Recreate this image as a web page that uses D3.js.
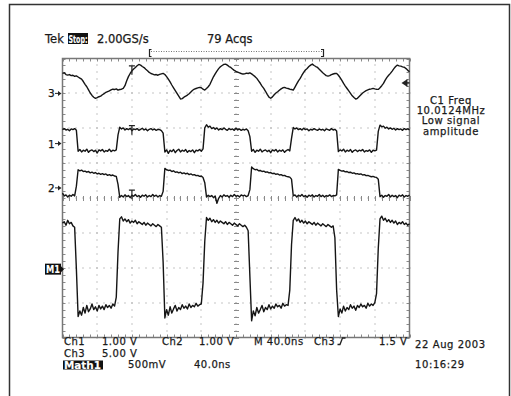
<!DOCTYPE html>
<html>
<head>
<meta charset="utf-8">
<script src="https://cdn.jsdelivr.net/npm/d3@7/dist/d3.min.js"></script>
<style>
  body { margin: 0; background: #fff; }
  text { font-family: "DejaVu Sans", sans-serif; fill: #1a1a1a; stroke: #1a1a1a; stroke-width: 0.25px; }
  text.inv { fill: #fff; stroke: #fff; stroke-width: 0.1px; font-family: "DejaVu Sans Condensed", "DejaVu Sans", sans-serif; font-weight: bold; }
</style>
</head>
<body>
<div id="viz"></div>
<script>
// sample spacing of every trace, ns (record runs 0..400 ns, 40 ns/div)
var STEP = 2;

// channel 3 (5.00 V/div), volts
var ch3Volts = [
  2.87, 2.95, 2.70, 2.62, 2.70, 2.55, 2.60, 2.45, 2.50, 2.35,
  2.20, 2.05, 1.70, 1.30, 0.95, 0.50, 0.05, -0.30, -0.55, -0.72,
  -0.62, -0.48, -0.39, -0.20, -0.05, 0.15, 0.25, 0.35, 0.50, 0.60,
  0.55, 0.65, 0.47, 0.55, 0.60, 0.72, 1.10, 1.80, 2.40, 2.85,
  3.24, 3.50, 3.72, 3.95, 4.15, 4.05, 3.85, 3.70, 3.45, 3.25,
  3.00, 2.85, 2.75, 2.65, 2.70, 2.60, 2.72, 2.80, 2.87, 2.70,
  2.40, 2.05, 1.65, 1.20, 0.80, 0.40, 0.00, -0.40, -0.80, -0.75,
  -0.55, -0.40, -0.24, -0.05, 0.20, 0.45, 0.60, 0.70, 0.78, 0.86,
  0.80, 0.60, 0.47, 0.70, 0.95, 1.30, 1.85, 2.38, 2.80, 3.20,
  3.55, 3.81, 4.00, 4.15, 4.20, 4.05, 3.85, 3.72, 3.50, 3.30,
  3.15, 3.05, 2.95, 2.85, 2.77, 2.80, 2.90, 2.85, 2.95, 2.80,
  2.60, 2.40, 2.15, 1.80, 1.45, 1.05, 0.72, 0.30, -0.15, -0.55,
  -0.70, -0.50, -0.20, 0.05, 0.23, 0.45, 0.65, 0.80, 0.86, 0.75,
  0.70, 0.60, 0.55, 0.47, 0.90, 1.35, 1.80, 2.15, 2.60, 3.00,
  3.35, 3.58, 3.85, 4.05, 4.20, 4.00, 3.85, 3.72, 3.45, 3.20,
  2.95, 2.75, 2.55, 2.48, 2.55, 2.70, 2.78, 2.85, 2.87, 2.60,
  2.25, 1.85, 1.43, 1.05, 0.70, 0.35, 0.00, -0.35, -0.60, -0.82,
  -0.70, -0.45, -0.20, 0.05, 0.23, 0.40, 0.50, 0.60, 0.65, 0.72,
  0.65, 0.60, 0.57, 0.80, 1.10, 1.43, 1.90, 2.30, 2.60, 2.87,
  3.20, 3.55, 3.85, 4.05, 3.95, 3.90, 3.80, 3.75, 3.55, 3.30,
  3.09
];

// channel 1 (1.00 V/div), volts
var ch1Volts = [
  0.40, 0.43, 0.39, 0.41, 0.37, 0.42, 0.40, 0.43, 0.38, -0.22,
  -0.17, -0.24, -0.19, -0.22, -0.16, -0.25, -0.20, -0.18, -0.23, -0.19,
  -0.27, -0.18, -0.21, -0.17, -0.24, -0.20, -0.22, -0.16, -0.23, -0.19,
  -0.21, -0.18, 0.25, 0.47, 0.42, 0.45, 0.39, 0.43, 0.40, 0.44,
  0.37, 0.42, 0.40, 0.43, 0.38, 0.41, 0.44, 0.39, 0.42, 0.37,
  0.41, 0.43, 0.39, 0.42, 0.38, 0.41, 0.40, 0.37, 0.30, -0.24,
  -0.18, -0.28, -0.19, -0.23, -0.17, -0.26, -0.20, -0.16, -0.24, -0.19,
  -0.22, -0.17, -0.25, -0.20, -0.23, -0.18, -0.26, -0.19, -0.21, -0.17,
  -0.22, -0.15, 0.45, 0.54, 0.47, 0.50, 0.43, 0.46, 0.41, 0.45,
  0.39, 0.43, 0.40, 0.45, 0.41, 0.38, 0.43, 0.40, 0.42, 0.38,
  0.44, 0.39, 0.42, 0.38, 0.41, 0.39, 0.42, 0.37, 0.20, -0.22,
  -0.17, -0.25, -0.19, -0.22, -0.16, -0.24, -0.20, -0.18, -0.23, -0.19,
  -0.26, -0.18, -0.21, -0.17, -0.24, -0.19, -0.22, -0.18, -0.25, -0.20,
  -0.17, -0.21, 0.15, 0.46, 0.42, 0.45, 0.40, 0.43, 0.39, 0.44,
  0.40, 0.42, 0.37, 0.41, 0.39, 0.43, 0.40, 0.38, 0.42, 0.39,
  0.41, 0.37, 0.42, 0.40, 0.38, 0.43, 0.39, 0.41, 0.36, -0.23,
  -0.18, -0.21, -0.16, -0.24, -0.19, -0.22, -0.17, -0.25, -0.20, -0.18,
  -0.23, -0.19, -0.21, -0.17, -0.24, -0.20, -0.22, -0.18, -0.25, -0.19,
  -0.21, -0.19, 0.35, 0.53, 0.48, 0.50, 0.44, 0.47, 0.42, 0.45,
  0.41, 0.44, 0.39, 0.43, 0.40, 0.42, 0.38, 0.43, 0.40, 0.42,
  0.39
];

// channel 2 (1.00 V/div), volts
var ch2Volts = [
  -0.15, -0.23, -0.20, -0.26, -0.21, -0.24, -0.19, -0.23, 0.05, 0.52,
  0.49, 0.51, 0.47, 0.48, 0.45, 0.47, 0.43, 0.45, 0.42, 0.44,
  0.40, 0.42, 0.39, 0.41, 0.38, 0.40, 0.36, 0.38, 0.35, 0.37,
  0.34, 0.33, 0.10, -0.27, -0.22, -0.26, -0.20, -0.25, -0.22, -0.28,
  -0.21, -0.24, -0.19, -0.25, -0.22, -0.27, -0.21, -0.24, -0.20, -0.26,
  -0.22, -0.25, -0.19, -0.24, -0.21, -0.26, -0.22, -0.24, -0.10, 0.56,
  0.52, 0.50, 0.51, 0.47, 0.49, 0.45, 0.46, 0.43, 0.45, 0.41,
  0.43, 0.40, 0.42, 0.38, 0.40, 0.37, 0.38, 0.35, 0.36, 0.33,
  0.34, 0.30, 0.15, -0.26, -0.21, -0.25, -0.22, -0.28, -0.23, -0.44,
  -0.30, -0.22, -0.26, -0.20, -0.24, -0.22, -0.27, -0.21, -0.25, -0.19,
  -0.24, -0.22, -0.26, -0.20, -0.23, -0.21, -0.25, -0.22, -0.05, 0.60,
  0.55, 0.52, 0.53, 0.49, 0.50, 0.47, 0.48, 0.45, 0.46, 0.43,
  0.44, 0.41, 0.42, 0.39, 0.40, 0.37, 0.38, 0.35, 0.36, 0.33,
  0.32, 0.31, 0.25, -0.23, -0.20, -0.26, -0.21, -0.24, -0.19, -0.25,
  -0.22, -0.27, -0.21, -0.24, -0.20, -0.26, -0.22, -0.24, -0.19, -0.25,
  -0.21, -0.26, -0.22, -0.24, -0.20, -0.25, -0.22, -0.23, -0.20, 0.53,
  0.50, 0.48, 0.49, 0.46, 0.47, 0.44, 0.45, 0.42, 0.43, 0.40,
  0.41, 0.39, 0.40, 0.37, 0.38, 0.35, 0.36, 0.34, 0.32, 0.33,
  0.31, 0.30, 0.25, -0.25, -0.21, -0.27, -0.22, -0.24, -0.19, -0.26,
  -0.21, -0.25, -0.22, -0.28, -0.21, -0.24, -0.20, -0.26, -0.22, -0.24,
  -0.21
];

// math 1 (500 mV/div), volts
var m1Volts = [
  0.66, 0.68, 0.63, 0.70, 0.65, 0.67, 0.62, 0.60, 0.00, -0.68,
  -0.60, -0.66, -0.55, -0.63, -0.52, -0.61, -0.57, -0.50, -0.58, -0.54,
  -0.60, -0.52, -0.57, -0.53, -0.58, -0.51, -0.55, -0.52, -0.56, -0.50,
  -0.53, -0.40, 0.25, 0.72, 0.75, 0.69, 0.72, 0.68, 0.71, 0.66,
  0.69, 0.67, 0.70, 0.65, 0.68, 0.66, 0.64, 0.67, 0.63, 0.66,
  0.64, 0.62, 0.65, 0.63, 0.61, 0.64, 0.62, 0.60, 0.10, -0.70,
  -0.58, -0.66, -0.54, -0.63, -0.57, -0.52, -0.60, -0.55, -0.58, -0.51,
  -0.56, -0.53, -0.57, -0.50, -0.55, -0.52, -0.54, -0.49, -0.53, -0.51,
  -0.50, -0.20, 0.40, 0.74, 0.70, 0.73, 0.68, 0.71, 0.67, 0.70,
  0.66, 0.69, 0.67, 0.65, 0.68, 0.64, 0.67, 0.65, 0.63, 0.66,
  0.64, 0.62, 0.65, 0.63, 0.61, 0.63, 0.60, 0.55, -0.10, -0.74,
  -0.60, -0.67, -0.55, -0.63, -0.58, -0.52, -0.61, -0.55, -0.58, -0.51,
  -0.57, -0.53, -0.56, -0.50, -0.54, -0.52, -0.56, -0.49, -0.53, -0.51,
  -0.52, -0.30, 0.35, 0.70, 0.74, 0.69, 0.72, 0.67, 0.70, 0.66,
  0.69, 0.65, 0.68, 0.66, 0.64, 0.67, 0.63, 0.66, 0.64, 0.62,
  0.65, 0.63, 0.61, 0.64, 0.62, 0.60, 0.62, 0.45, -0.30, -0.68,
  -0.57, -0.63, -0.53, -0.60, -0.55, -0.58, -0.51, -0.56, -0.53, -0.59,
  -0.52, -0.55, -0.50, -0.54, -0.52, -0.56, -0.49, -0.53, -0.50, -0.52,
  -0.48, -0.35, 0.30, 0.72, 0.76, 0.70, 0.73, 0.68, 0.71, 0.67,
  0.70, 0.66, 0.69, 0.64, 0.67, 0.65, 0.68, 0.64, 0.66, 0.63,
  0.65
];

// scope settings
var channelNames = ["3", "1", "2", "M1"];
var voltsPerDiv = [5.0, 1.0, 1.0, 0.5];
var groundDiv = [3.0, 1.56, 0.29, -2.04];
var traceData = [ch3Volts, ch1Volts, ch2Volts, m1Volts];
var triggerTime = 80;      // ns, the "T" marks
var triggerLevel = 1.5;    // V on ch3

// readouts
var headerTexts = ["2.00GS/s", "79 Acqs"];
var freqTexts = ["C1 Freq", "10.0124MHz", "Low signal", "amplitude"];
var footRow1 = ["Ch1", "1.00 V", "Ch2", "1.00 V", "M 40.0ns", "Ch3", "1.5 V"];
var footRow2 = ["Ch3", "5.00 V"];
var footRow3 = ["500mV", "40.0ns"];
var stampTexts = ["22 Aug 2003", "10:16:29"];

var W = 511, H = 396;
var svg = d3.select("#viz").append("svg")
  .attr("width", W).attr("height", H);

// outer frame (runs off the bottom)
svg.append("rect")
  .attr("x", 9.5).attr("y", 4.5)
  .attr("width", 500).attr("height", 420)
  .attr("fill", "none").attr("stroke", "#333").attr("stroke-width", 1.5);

// screen scales
var x = d3.scaleLinear().domain([0, 400]).range([62.5, 409.5]);
var yDiv = d3.scaleLinear().domain([-4, 4]).range([337.5, 58.5]);
var xDivs = d3.scaleLinear().domain([0, 10]).range([62.5, 409.5]);

var grid = svg.append("g");
var gridColor = "#8a8a8a";

// dotted graticule lines at each minor (1/5 div) step
var minorX = d3.range(0, 10.001, 0.2), minorY = d3.range(-4, 4.001, 0.2);
d3.range(1, 10).forEach(function (i) {
  grid.selectAll(null).data(minorY).enter().append("rect")
    .attr("x", Math.round(xDivs(i)) - 0.5).attr("y", d => Math.round(yDiv(d)) - 0.5)
    .attr("width", 1).attr("height", 1).attr("fill", gridColor);
});
d3.range(-3, 4).forEach(function (j) {
  grid.selectAll(null).data(minorX).enter().append("rect")
    .attr("x", d => Math.round(xDivs(d)) - 0.5).attr("y", Math.round(yDiv(j)) - 0.5)
    .attr("width", 1).attr("height", 1).attr("fill", gridColor);
});

// centre cross ticks
grid.selectAll(null).data(minorX).enter().append("line")
  .attr("x1", d => Math.round(xDivs(d)) + 0.5).attr("x2", d => Math.round(xDivs(d)) + 0.5)
  .attr("y1", yDiv(0) - 2).attr("y2", yDiv(0) + 3)
  .attr("stroke", gridColor);
grid.selectAll(null).data(minorY).enter().append("line")
  .attr("y1", d => Math.round(yDiv(d)) + 0.5).attr("y2", d => Math.round(yDiv(d)) + 0.5)
  .attr("x1", xDivs(5) - 2).attr("x2", xDivs(5) + 3)
  .attr("stroke", gridColor);

// border ticks
[[yDiv(4), 3], [yDiv(-4), -3]].forEach(function (b) {
  grid.selectAll(null).data(minorX).enter().append("line")
    .attr("x1", d => Math.round(xDivs(d)) + 0.5).attr("x2", d => Math.round(xDivs(d)) + 0.5)
    .attr("y1", b[0]).attr("y2", b[0] + b[1])
    .attr("stroke", gridColor);
});
[[xDivs(0), 3], [xDivs(10), -3]].forEach(function (b) {
  grid.selectAll(null).data(minorY).enter().append("line")
    .attr("y1", d => Math.round(yDiv(d)) + 0.5).attr("y2", d => Math.round(yDiv(d)) + 0.5)
    .attr("x1", b[0]).attr("x2", b[0] + b[1])
    .attr("stroke", gridColor);
});

grid.append("rect")
  .attr("x", xDivs(0)).attr("y", yDiv(4))
  .attr("width", xDivs(10) - xDivs(0)).attr("height", yDiv(-4) - yDiv(4))
  .attr("fill", "none").attr("stroke", "#777").attr("stroke-width", 1.5);

// traces
traceData.forEach(function (vals, k) {
  var line = d3.line()
    .x((d, i) => x(i * STEP))
    .y(d => yDiv(groundDiv[k] + d / voltsPerDiv[k]));
  svg.append("path")
    .datum(vals)
    .attr("fill", "none")
    .attr("stroke", "#151515")
    .attr("stroke-width", 1.4)
    .attr("stroke-linejoin", "round")
    .attr("d", line);
});

// trigger "T" marks on ch3, ch1, ch2
[0, 1, 2].forEach(function (k) {
  var i = Math.round(triggerTime / STEP);
  var yy = yDiv(groundDiv[k] + traceData[k][i] / voltsPerDiv[k]);
  var xx = x(triggerTime);
  svg.append("path")
    .attr("d", "M" + (xx - 3) + "," + (yy - 5) + "H" + (xx + 3) + "M" + xx + "," + (yy - 5) + "V" + (yy + 4))
    .attr("stroke", "#222").attr("stroke-width", 1.2).attr("fill", "none");
});

// trigger level arrow on the right edge
var ty = yDiv(groundDiv[0] + triggerLevel / voltsPerDiv[0]);
svg.append("path")
  .attr("d", "M" + (x(400) - 8) + "," + ty + "l6,-4v8z")
  .attr("fill", "#222");
svg.append("line")
  .attr("x1", x(400) - 3).attr("x2", x(400)).attr("y1", ty).attr("y2", ty)
  .attr("stroke", "#222").attr("stroke-width", 1.5);

// channel ground markers
channelNames.forEach(function (name, k) {
  var gy = yDiv(groundDiv[k]);
  if (name === "M1") {
    svg.append("rect").attr("x", 45).attr("y", gy - 5.5).attr("width", 16).attr("height", 11).attr("fill", "#111");
    svg.append("text").attr("class", "inv").attr("x", 46).attr("y", gy + 4).attr("font-size", 10)
      .attr("textLength", 14).attr("lengthAdjust", "spacingAndGlyphs").text("M1");
    svg.append("path").attr("d", "M61," + (gy - 3) + "l3,3l-3,3z").attr("fill", "#111");
  } else {
    svg.append("text").attr("x", 48).attr("y", gy + 4).attr("font-size", 10.5).text(name);
    svg.append("line").attr("x1", 55).attr("x2", 60).attr("y1", gy).attr("y2", gy)
      .attr("stroke", "#222").attr("stroke-width", 1);
    svg.append("path").attr("d", "M58," + (gy - 2.5) + "l3.5,2.5l-3.5,2.5z").attr("fill", "#222");
  }
});

// header
svg.append("text").attr("x", 45).attr("y", 43).attr("font-size", 11.5).text("Tek");
svg.append("rect").attr("x", 68).attr("y", 33).attr("width", 20).attr("height", 11).attr("fill", "#111");
svg.append("text").attr("class", "inv").attr("x", 68.5).attr("y", 42.5).attr("font-size", 11)
  .attr("textLength", 19).attr("lengthAdjust", "spacingAndGlyphs").text("Stop:");
svg.append("text").attr("x", 97).attr("y", 43).attr("font-size", 11.5).text(headerTexts[0]);
svg.append("text").attr("x", 207).attr("y", 43).attr("font-size", 11.5).text(headerTexts[1]);

// record bracket
svg.append("path").attr("d", "M151.5,49.5H149.5V56.5H151.5M321,49.5H323.5V56.5H321")
  .attr("fill", "none").attr("stroke", "#222").attr("stroke-width", 1.2);
svg.append("line").attr("x1", 151).attr("x2", 322).attr("y1", 51.5).attr("y2", 51.5)
  .attr("stroke", "#777").attr("stroke-dasharray", "1,1.5");

// frequency readout
svg.append("g").selectAll("text").data(freqTexts).enter().append("text")
  .attr("x", 451).attr("y", (d, i) => 103.5 + i * 10.4)
  .attr("font-size", 10).attr("letter-spacing", 0.6)
  .attr("text-anchor", "middle").text(d => d);

// footer rows
var ffs = 10, fls = 0.5;
var row1X = [64, 102, 162, 199, 254, 314, 379];
svg.append("g").selectAll("text").data(footRow1).enter().append("text")
  .attr("x", (d, i) => row1X[i]).attr("y", 345).attr("font-size", ffs)
  .attr("letter-spacing", fls).text(d => d);
// rising-edge trigger symbol
svg.append("path").attr("d", "M337.5,344.5H340L342.5,338H345.5")
  .attr("fill", "none").attr("stroke", "#222").attr("stroke-width", 1.3);

svg.append("text").attr("x", 64).attr("y", 356.5).attr("font-size", ffs).attr("letter-spacing", fls).text(footRow2[0]);
svg.append("text").attr("x", 102).attr("y", 356.5).attr("font-size", ffs).attr("letter-spacing", fls).text(footRow2[1]);

svg.append("rect").attr("x", 63).attr("y", 360.5).attr("width", 40).attr("height", 9).attr("fill", "#111");
svg.append("text").attr("class", "inv").attr("x", 64).attr("y", 368.5).attr("font-size", 10)
  .attr("textLength", 37).attr("lengthAdjust", "spacingAndGlyphs").text("Math1");
svg.append("text").attr("x", 128).attr("y", 368).attr("font-size", ffs).attr("letter-spacing", fls).text(footRow3[0]);
svg.append("text").attr("x", 194).attr("y", 368).attr("font-size", ffs).attr("letter-spacing", fls).text(footRow3[1]);

svg.append("text").attr("x", 415).attr("y", 348).attr("font-size", ffs).attr("letter-spacing", 0.6).text(stampTexts[0]);
svg.append("text").attr("x", 415).attr("y", 368).attr("font-size", ffs).attr("letter-spacing", 0.6).text(stampTexts[1]);
</script>
</body>
</html>
